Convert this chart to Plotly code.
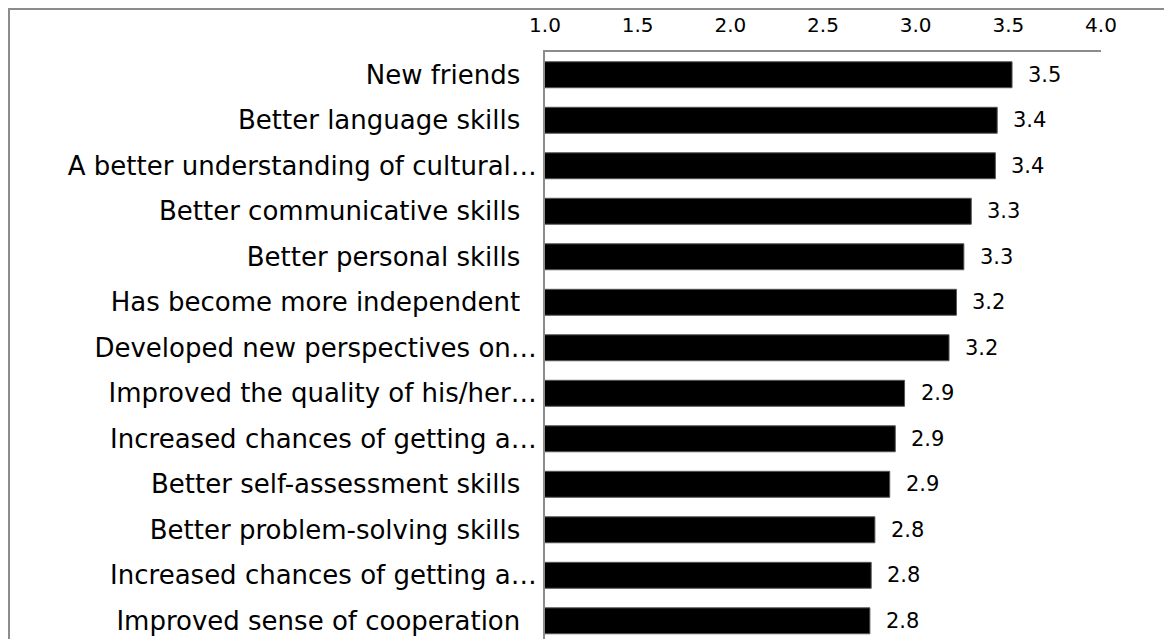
import plotly.graph_objects as go

categories = [
    "New friends",
    "Better language skills",
    "A better understanding of cultural…",
    "Better communicative skills",
    "Better personal skills",
    "Has become more independent",
    "Developed new perspectives on…",
    "Improved the quality of his/her…",
    "Increased chances of getting a…",
    "Better self-assessment skills",
    "Better problem-solving skills",
    "Increased chances of getting a…",
    "Improved sense of cooperation",
]
values = [3.52, 3.44, 3.43, 3.30, 3.26, 3.22, 3.18, 2.94, 2.89, 2.86, 2.78, 2.76, 2.753]
x_ticks = [1.0, 1.5, 2.0, 2.5, 3.0, 3.5, 4.0]

labels = [f"{v:.1f}" for v in values]
# non-truncated labels carry trailing space like the original
tick_text = [c if c.endswith("…") else c + "\u00a0\u00a0" for c in categories]
y_idx = list(range(len(categories)))

FONT = "Verdana, DejaVu Sans, sans-serif"
GRAY = "#8c8c8c"

fig = go.Figure()
fig.add_trace(go.Bar(
    x=values, y=y_idx, orientation="h",
    marker=dict(color="black", line=dict(color="#555555", width=1)),
    hoverinfo="x+y",
))

for v, yi, lab in zip(values, y_idx, labels):
    fig.add_annotation(x=v, y=yi, text=lab, showarrow=False, xanchor="left",
                       xshift=14, font=dict(family=FONT, size=21, color="black"))

# outer chart frame (page is offset by the 8px body margin)
fig.add_shape(type="rect", xref="paper", yref="paper",
              x0=-536 / 556, x1=1.3, y0=-0.2, y1=1 + 43 / 587,
              line=dict(color=GRAY, width=2), fillcolor="rgba(0,0,0,0)", layer="below")

fig.update_layout(
    width=1164, height=631,
    margin=dict(l=537, r=71, t=44, b=0, pad=0),
    plot_bgcolor="white", paper_bgcolor="white",
    bargap=0.43, showlegend=False,
    font=dict(family=FONT, color="black"),
)
fig.update_xaxes(
    side="top", range=[1, 4], tickvals=x_ticks, ticktext=[f"{t:.1f}" for t in x_ticks],
    showline=True, linecolor=GRAY, linewidth=2, showgrid=False, zeroline=False,
    ticks="", tickfont=dict(family=FONT, size=20, color="black"), ticklabelstandoff=10,
)
fig.update_yaxes(
    range=[12.40, -0.5], tickvals=y_idx, ticktext=tick_text,
    showline=True, linecolor=GRAY, linewidth=2, showgrid=False, zeroline=False,
    ticks="", tickfont=dict(family=FONT, size=26, color="black"), ticklabelstandoff=1,
)

fig.write_html("out.html")
